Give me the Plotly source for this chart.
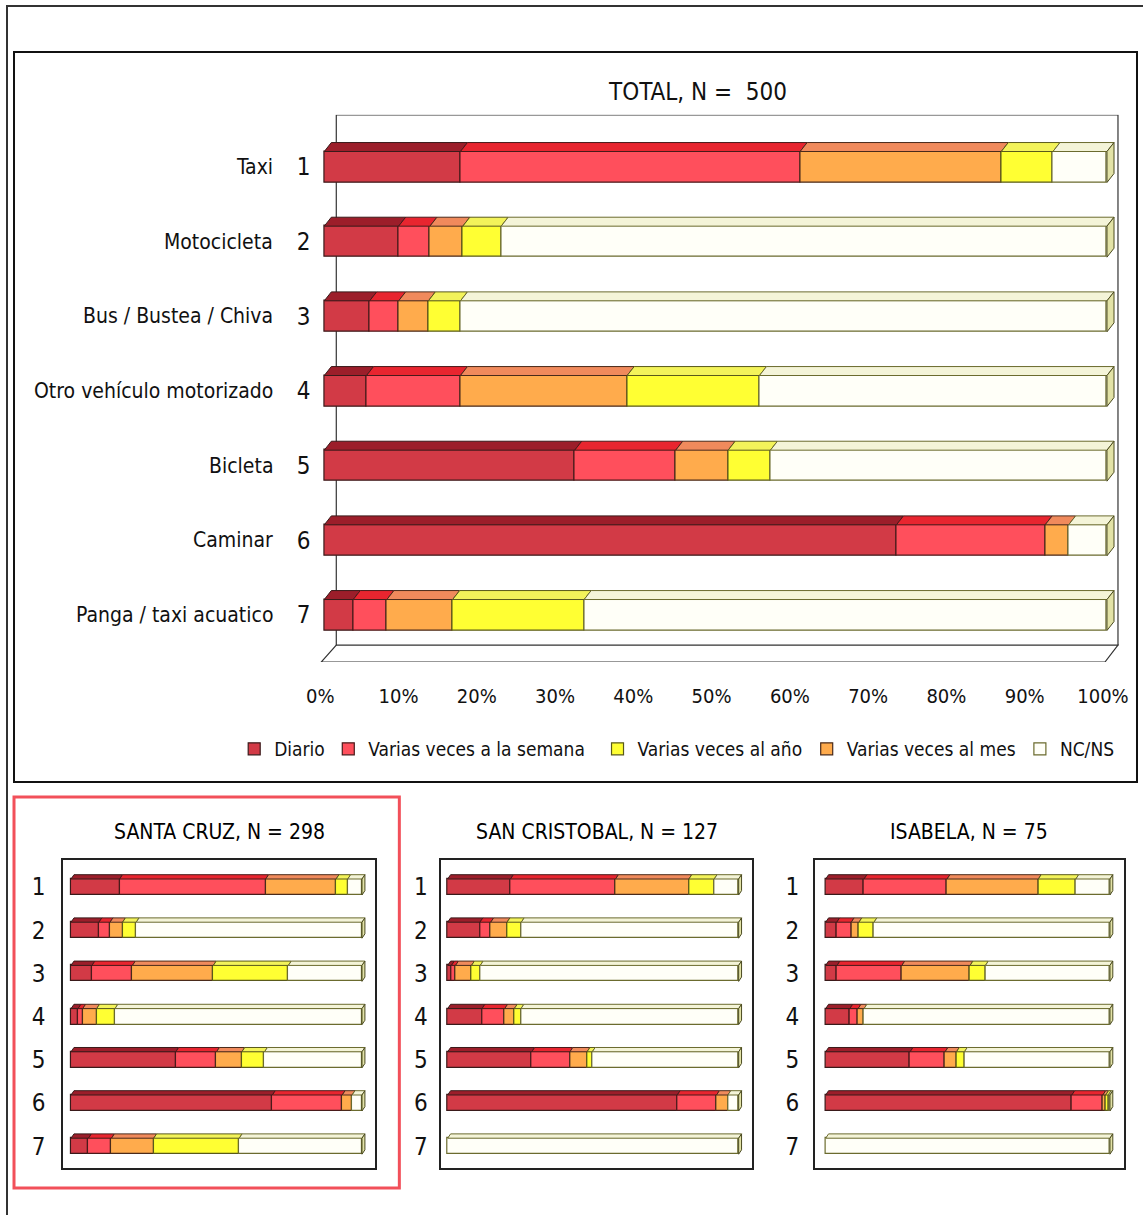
import plotly.graph_objects as go
import numpy as np

W, H = 1143, 1215

# ---------------- DATA ----------------
categories = ["Taxi", "Motocicleta", "Bus / Bustea / Chiva", "Otro vehículo motorizado",
              "Bicleta", "Caminar", "Panga / taxi acuatico"]
row_labels = ["1", "2", "3", "4", "5", "6", "7"]
series_names = ["Diario", "Varias veces a la semana", "Varias veces al mes",
                "Varias veces al año", "NC/NS"]
tick_vals = [0, 10, 20, 30, 40, 50, 60, 70, 80, 90, 100]
tick_text = ["0%", "10%", "20%", "30%", "40%", "50%", "60%", "70%", "80%", "90%", "100%"]

# TOTAL, N = 500
total_diario = [17.4, 9.5, 5.8, 5.4, 32.0, 73.1, 3.7]
total_semana = [43.4, 4.0, 3.7, 12.0, 12.9, 19.0, 4.3]
total_mes    = [25.7, 4.2, 3.8, 21.3, 6.7, 3.0, 8.4]
total_anio   = [6.6, 4.9, 4.1, 16.9, 5.4, 0.0, 16.8]
total_ncns   = [6.9, 77.4, 82.6, 44.4, 43.0, 4.9, 66.8]

# SANTA CRUZ, N = 298
scz_diario = [16.7, 9.6, 7.2, 2.4, 36.0, 69.2, 6.0]
scz_semana = [50.2, 3.8, 13.9, 1.6, 14.0, 24.0, 7.9]
scz_mes    = [24.2, 4.3, 27.8, 4.8, 8.7, 3.4, 14.5]
scz_anio   = [4.0, 4.7, 25.8, 6.3, 7.8, 0.0, 29.4]
scz_ncns   = [4.9, 77.6, 25.3, 84.9, 33.5, 3.4, 42.2]

# SAN CRISTOBAL, N = 127
scr_diario = [21.6, 11.1, 1.3, 11.8, 28.9, 78.9, 0.0]
scr_semana = [36.1, 3.7, 1.4, 7.8, 13.1, 13.5, 0.0]
scr_mes    = [25.2, 5.6, 5.5, 3.3, 5.9, 3.9, 0.0]
scr_anio   = [8.7, 4.9, 3.0, 2.3, 1.8, 0.0, 0.0]
scr_ncns   = [8.4, 74.7, 88.8, 74.8, 50.3, 3.7, 100.0]

# ISABELA, N = 75
isa_diario = [13.5, 3.9, 4.0, 8.5, 29.7, 86.6, 0.0]
isa_semana = [29.2, 5.1, 22.8, 2.9, 12.3, 10.9, 0.0]
isa_mes    = [32.1, 2.7, 24.0, 2.1, 4.0, 1.0, 0.0]
isa_anio   = [13.2, 5.3, 5.4, 0.0, 2.8, 0.9, 0.0]
isa_ncns   = [12.0, 83.0, 43.8, 86.5, 51.2, 0.6, 100.0]

# ---------------- STYLE ----------------
FONT = "Liberation Sans Narrow, Arial Narrow, DejaVu Sans Condensed, sans-serif"
front_col = ["#d23a46", "#ff4f5c", "#ffab4c", "#ffff33", "#fffff8"]
top_col   = ["#9c1e2a", "#e8252f", "#f08a5c", "#f3f35a", "#f4f4d8"]
line_col  = ["#3a1a1a", "#4a1a1a", "#4a2a1a", "#5a5a1a", "#6b6b2e"]
side_col  = "#e2e2a6"
# legend order in the reference: Diario, semana, año, mes, NC/NS
legend_ids = ["legend", "legend2", "legend4", "legend3", "legend5"]
legend_sym_px = {"legend": 254, "legend2": 348, "legend3": 617, "legend4": 826, "legend5": 1039}

# horizontal placement helper (compensates the viewer's horizontal offset)
X_OFF, X_SPAN = 7, 1136


def px2x(px):
    return (px - X_OFF) / X_SPAN


def py2y(py):
    return 1 - py / H


fig = go.Figure()


def add_chart(series, xa, ya, h, dx, dy, showlegend):
    vals = np.array(series, dtype=float)          # (5, 7)
    starts = np.vstack([np.zeros(vals.shape[1]), np.cumsum(vals, axis=0)[:-1]])
    rows = np.arange(1, vals.shape[1] + 1)
    for s in range(vals.shape[0]):
        v = [x if x > 0 else None for x in vals[s]]
        fig.add_trace(go.Bar(
            x=v, y=rows, base=starts[s], orientation="h", width=h,
            name=series_names[s], showlegend=showlegend, legend=legend_ids[s],
            marker=dict(color=front_col[s], line=dict(color=line_col[s], width=1.2)),
            xaxis=xa, yaxis=ya, hoverinfo="skip"))
        # top faces
        px_, py_ = [], []
        for r in range(vals.shape[1]):
            if vals[s][r] <= 0:
                continue
            a = starts[s][r]
            b = a + vals[s][r]
            yt = rows[r] - h / 2
            px_ += [a, b, b + dx, a + dx, a, None]
            py_ += [yt, yt, yt - dy, yt - dy, yt, None]
        fig.add_trace(go.Scatter(
            x=px_, y=py_, mode="lines", fill="toself", fillcolor=top_col[s],
            line=dict(color=line_col[s], width=1), showlegend=False,
            xaxis=xa, yaxis=ya, hoverinfo="skip"))
    # right side faces
    totals = vals.sum(axis=0)
    sx, sy = [], []
    for r in range(vals.shape[1]):
        e = totals[r]
        yt = rows[r] - h / 2
        yb = rows[r] + h / 2
        sx += [e, e + dx, e + dx, e, e, None]
        sy += [yt, yt - dy, yb - dy, yb, yt, None]
    fig.add_trace(go.Scatter(
        x=sx, y=sy, mode="lines", fill="toself", fillcolor=side_col,
        line=dict(color="#4a4a20", width=1), showlegend=False,
        xaxis=xa, yaxis=ya, hoverinfo="skip"))


# ---------- main chart geometry ----------
M_X0, M_PPU = 325, 7.82
M_XR = [-1.5, 103]
M_ROW1, M_SP = 167, 74.67
M_YR = [7.63, 0.30]

add_chart([total_diario, total_semana, total_mes, total_anio, total_ncns],
          "x", "y", h=0.415, dx=0.9, dy=0.12, showlegend=True)

# ---------- small charts ----------
small = [
    ("SANTA CRUZ, N = 298", [scz_diario, scz_semana, scz_mes, scz_anio, scz_ncns], 72, 2.907, 64, 376, 11),
    ("SAN CRISTOBAL, N = 127", [scr_diario, scr_semana, scr_mes, scr_anio, scr_ncns], 448.3, 2.907, 442, 752, 7),
    ("ISABELA, N = 75", [isa_diario, isa_semana, isa_mes, isa_anio, isa_ncns], 826, 2.84, 815, 1124, 9),
]
S_ROW1, S_SP = 887, 43.2
S_TOP, S_BOT = 860, 1168

layout_extra = {}
annotations = []
for i, (title, data, x0, ppu, bl, br, stand) in enumerate(small):
    k = i + 2
    add_chart(data, f"x{k}", f"y{k}", h=0.37, dx=1.0, dy=0.1, showlegend=False)
    xr = [(bl - x0) / ppu, (br - x0) / ppu]
    yr = [1 + (S_BOT - S_ROW1) / S_SP, 1 - (S_ROW1 - S_TOP) / S_SP]
    layout_extra[f"xaxis{k}"] = dict(domain=[px2x(bl), px2x(br)], range=xr, anchor=f"y{k}",
                                     showgrid=False, zeroline=False, showticklabels=False,
                                     showline=True, mirror=True, linecolor="#222", linewidth=1.5)
    layout_extra[f"yaxis{k}"] = dict(domain=[py2y(S_BOT), py2y(S_TOP)], range=yr, anchor=f"x{k}",
                                     showgrid=False, zeroline=False, tickvals=list(range(1, 8)),
                                     ticktext=row_labels, ticklabelstandoff=stand,
                                     tickfont=dict(family=FONT, size=24, color="#111"),
                                     showline=True, mirror=True, linecolor="#222", linewidth=1.5)
    annotations.append(dict(text=title, xref="paper", yref="paper", x=px2x((bl + br) / 2),
                            y=py2y(832), xanchor="center", yanchor="middle", showarrow=False,
                            font=dict(family=FONT, size=21, color="#000")))

# category names on main chart
for r, name in enumerate(categories):
    annotations.append(dict(text=name, xref="paper", yref="y", x=px2x(276), y=r + 1,
                            xanchor="right", yanchor="middle", showarrow=False,
                            font=dict(family=FONT, size=21, color="#111")))
annotations.append(dict(text="TOTAL, N =  500", xref="paper", yref="paper", x=px2x(698),
                        y=py2y(92), xanchor="center", yanchor="middle", showarrow=False,
                        font=dict(family=FONT, size=24, color="#111")))

# legends: one per entry, placed like the reference
for lid, spx in legend_sym_px.items():
    layout_extra[lid] = dict(orientation="h", x=px2x(spx - 19), y=py2y(749),
                             xanchor="left", yanchor="middle", itemwidth=30,
                             font=dict(family=FONT, size=19, color="#111"),
                             bgcolor="rgba(0,0,0,0)")

# back wall / floor of the 3D main chart (data coords)
wl, wr = (337 - M_X0) / M_PPU, (1118 - M_X0) / M_PPU
fl, fr = (322 - M_X0) / M_PPU, (1105 - M_X0) / M_PPU
wt = 1 - (M_ROW1 - 115) / M_SP
wb = 1 + (645 - M_ROW1) / M_SP
fb = 1 + (662 - M_ROW1) / M_SP
shapes = [
    dict(type="path", xref="x", yref="y", layer="below",
         path=f"M {fl},{fb} L {fr},{fb} L {wr},{wb} L {wl},{wb} Z",
         line=dict(color="#333", width=1.2), fillcolor="white"),
    dict(type="rect", xref="x", yref="y", layer="below", x0=wl, x1=wr, y0=wt, y1=wb,
         line=dict(color="#333", width=1.2), fillcolor="white"),
    # frames
    dict(type="rect", xref="paper", yref="paper", x0=px2x(15), x1=px2x(1137),
         y0=py2y(782), y1=py2y(52), line=dict(color="#111", width=2)),
    dict(type="rect", xref="paper", yref="paper", x0=px2x(15), x1=px2x(400),
         y0=py2y(1188), y1=py2y(797), line=dict(color="#f2505a", width=3)),
    dict(type="line", xref="paper", yref="paper", x0=px2x(8), x1=px2x(8),
         y0=py2y(1215), y1=py2y(6), line=dict(color="#333", width=2)),
    dict(type="line", xref="paper", yref="paper", x0=px2x(7), x1=1,
         y0=py2y(6), y1=py2y(6), line=dict(color="#333", width=2)),
]

fig.update_layout(
    width=W, height=H, autosize=False, margin=dict(l=0, r=0, t=0, b=0, pad=0),
    paper_bgcolor="white", plot_bgcolor="rgba(0,0,0,0)",
    barmode="overlay", bargap=0,
    font=dict(family=FONT, color="#111"),
    xaxis=dict(domain=[px2x(M_X0 + M_XR[0] * M_PPU), px2x(M_X0 + M_XR[1] * M_PPU)],
               range=M_XR, anchor="y", showgrid=False, zeroline=False, showline=False,
               tickvals=tick_vals, ticktext=tick_text, ticklabelstandoff=20, ticklabelshift=-4,
               tickfont=dict(family=FONT, size=20, color="#111")),
    yaxis=dict(domain=[py2y(M_ROW1 + (M_YR[0] - 1) * M_SP), py2y(M_ROW1 + (M_YR[1] - 1) * M_SP)],
               range=M_YR, anchor="x", showgrid=False, zeroline=False, showline=False,
               tickvals=list(range(1, 8)), ticktext=row_labels, ticklabelstandoff=1,
               tickfont=dict(family=FONT, size=24, color="#111")),
    annotations=annotations, shapes=shapes,
    **layout_extra,
)

fig.write_html(
    "out.html",
    config={"displayModeBar": False, "responsive": False},
    post_script=(
        "document.body.style.margin='0';"
        "document.body.style.padding='0';"
        "document.documentElement.style.overflow='hidden';"
        "var d=document.querySelector('.plotly-graph-div');"
        "d.style.position='absolute';d.style.left='0px';d.style.top='0px';"
    ),
)
